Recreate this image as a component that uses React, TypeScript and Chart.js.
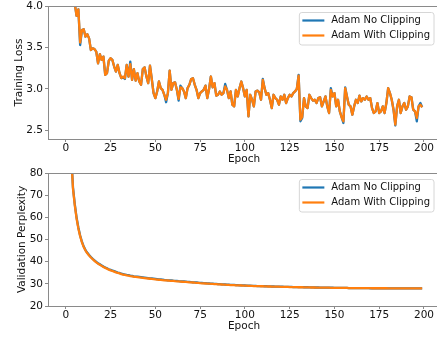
import React, { useEffect, useRef } from "react";
import { Chart, registerables } from "chart.js";

Chart.register(...registerables);

const FONT = '"DejaVu Sans", sans-serif';

const SERIES_NAMES = ["Adam No Clipping", "Adam With Clipping"];
const COLORS = ["#1f77b4", "#ff7f0e"];

const X_TICKS = [0, 25, 50, 75, 100, 125, 150, 175, 200];
const LOSS_TICKS = [2.5, 3.0, 3.5, 4.0];
const PPL_TICKS = [20, 30, 40, 50, 60, 70, 80];

// Training loss, epochs 0..199
const LOSS_WITH_CLIP = [
  6.2, 5.1, 4.6, 4.35, 4.15, 4.03, 3.88, 3.96, 3.56, 3.71,
  3.72, 3.63, 3.66, 3.61, 3.47, 3.49, 3.48, 3.45, 3.31, 3.42,
  3.35, 3.39, 3.17, 3.19, 3.34, 3.37, 3.35, 3.27, 3.21, 3.29,
  3.19, 3.13, 3.15, 3.13, 3.29, 3.15, 3.3, 3.11, 3.24, 3.1,
  3.19, 3.09, 3.05, 3.24, 3.26, 3.15, 3.07, 3.28, 3.12, 2.95,
  2.89, 2.97, 3.09, 3.01, 2.99, 2.93, 2.87, 2.95, 3.22, 2.99,
  3.07, 3.08, 2.99, 2.88, 3.02, 3.01, 2.97, 2.89, 3.01, 3.05,
  3.12, 3.13, 3.05, 2.99, 2.89, 2.95, 2.97, 2.99, 3.04, 2.89,
  3.0, 3.15, 3.02, 3.07, 2.92, 2.93, 2.97, 2.93, 2.95, 3.03,
  2.99, 2.89, 2.97, 2.81, 2.79, 2.99, 2.91, 3.01, 3.09, 3.01,
  2.91, 2.99, 2.67, 2.93, 2.87, 2.79, 2.97, 2.98, 2.96, 2.87,
  3.11, 3.01, 2.93, 2.95, 2.87, 2.77, 2.93, 2.89, 2.87, 2.81,
  2.91, 2.87, 2.93, 2.83, 2.89, 2.93, 2.91, 2.95, 2.97, 3.0,
  3.16, 2.63, 2.66, 2.89, 2.79, 2.77, 2.93, 2.89, 2.86, 2.87,
  2.83, 2.89, 2.9, 2.79, 2.85, 2.91, 2.79, 2.71, 2.99, 2.91,
  2.95, 2.79, 2.87, 2.73, 2.66, 2.61, 3.01, 2.91, 2.81, 2.79,
  2.69, 2.79, 2.87, 2.83, 2.92, 2.85, 2.89, 2.87, 2.91, 2.87,
  2.89, 2.77, 2.71, 2.73, 2.83, 2.71, 2.73, 2.79, 2.71, 2.83,
  3.01, 2.95, 2.87, 2.75, 2.57, 2.79, 2.87, 2.71, 2.79, 2.83,
  2.75, 2.79, 2.91, 2.9, 2.75, 2.73, 2.65, 2.79, 2.81, 2.78,
];

const LOSS_NO_CLIP = [
  6.2, 5.1, 4.6, 4.35, 4.15, 4.03, 3.88, 3.96, 3.53, 3.71,
  3.72, 3.63, 3.66, 3.61, 3.47, 3.49, 3.48, 3.45, 3.31, 3.42,
  3.35, 3.39, 3.17, 3.19, 3.34, 3.37, 3.35, 3.27, 3.21, 3.29,
  3.19, 3.13, 3.14, 3.12, 3.29, 3.15, 3.33, 3.11, 3.24, 3.1,
  3.19, 3.09, 3.05, 3.24, 3.26, 3.15, 3.07, 3.28, 3.12, 2.95,
  2.89, 2.97, 3.09, 3.01, 2.99, 2.93, 2.84, 2.95, 3.22, 2.99,
  3.07, 3.08, 2.99, 2.86, 3.04, 3.01, 2.97, 2.89, 3.01, 3.05,
  3.12, 3.13, 3.05, 2.99, 2.89, 2.95, 2.97, 2.99, 3.04, 2.89,
  3.0, 3.15, 3.02, 3.07, 2.92, 2.93, 2.97, 2.93, 2.95, 3.06,
  2.99, 2.89, 2.97, 2.81, 2.79, 2.99, 2.91, 3.01, 3.09, 3.01,
  2.91, 2.99, 2.67, 2.93, 2.87, 2.79, 2.97, 2.98, 2.96, 2.87,
  3.12, 3.01, 2.93, 2.95, 2.87, 2.77, 2.93, 2.89, 2.87, 2.81,
  2.91, 2.87, 2.93, 2.83, 2.89, 2.93, 2.91, 2.95, 2.97, 3.0,
  3.17, 2.61, 2.65, 2.89, 2.79, 2.77, 2.93, 2.89, 2.86, 2.87,
  2.83, 2.89, 2.9, 2.79, 2.85, 2.91, 2.79, 2.71, 3.01, 2.91,
  2.95, 2.79, 2.87, 2.73, 2.66, 2.59, 3.02, 2.91, 2.81, 2.79,
  2.69, 2.79, 2.87, 2.83, 2.92, 2.85, 2.89, 2.87, 2.91, 2.87,
  2.89, 2.77, 2.71, 2.73, 2.83, 2.71, 2.73, 2.79, 2.71, 2.83,
  3.01, 2.95, 2.87, 2.75, 2.56, 2.79, 2.87, 2.71, 2.79, 2.83,
  2.75, 2.79, 2.91, 2.9, 2.75, 2.73, 2.61, 2.79, 2.83, 2.78,
];

// Validation perplexity, epochs 0..199
const PPL_WITH_CLIP = [
  300, 170, 118, 88, 73, 65.5, 59.5, 55, 51.5, 48.7,
  46.6, 45.0, 43.8, 42.8, 41.9, 41.1, 40.4, 39.7, 39.1, 38.6,
  38.1, 37.6, 37.2, 36.8, 36.4, 36.1, 35.8, 35.5, 35.2, 34.9,
  34.7, 34.4, 34.2, 34.0, 33.8, 33.7, 33.5, 33.4, 33.2, 33.1,
  33.0, 32.9, 32.8, 32.7, 32.6, 32.5, 32.4, 32.3, 32.2, 32.1,
  32.0, 31.9, 31.85, 31.8, 31.7, 31.6, 31.55, 31.5, 31.4, 31.35,
  31.3, 31.2, 31.15, 31.1, 31.0, 30.95, 30.9, 30.85, 30.8, 30.7,
  30.65, 30.6, 30.5, 30.45, 30.4, 30.3, 30.25, 30.2, 30.15, 30.1,
  30.05, 30.0, 29.95, 29.9, 29.85, 29.8, 29.75, 29.7, 29.65, 29.6,
  29.55, 29.5, 29.45, 29.45, 29.4, 29.35, 29.3, 29.3, 29.25, 29.2,
  29.2, 29.15, 29.1, 29.1, 29.05, 29.0, 29.0, 28.95, 28.95, 28.9,
  28.9, 28.85, 28.85, 28.8, 28.8, 28.75, 28.75, 28.7, 28.7, 28.7,
  28.65, 28.65, 28.6, 28.6, 28.6, 28.55, 28.55, 28.5, 28.5, 28.5,
  28.45, 28.45, 28.45, 28.4, 28.4, 28.4, 28.4, 28.35, 28.35, 28.35,
  28.3, 28.3, 28.3, 28.3, 28.25, 28.25, 28.25, 28.25, 28.2, 28.2,
  28.2, 28.2, 28.2, 28.15, 28.15, 28.15, 28.15, 28.15, 28.1, 28.1,
  28.1, 28.1, 28.1, 28.1, 28.1, 28.05, 28.05, 28.05, 28.05, 28.05,
  28.05, 28.0, 28.0, 28.0, 28.0, 28.0, 28.0, 28.0, 28.0, 28.0,
  27.95, 27.95, 27.95, 27.95, 27.95, 27.95, 27.95, 27.95, 27.95, 27.95,
  27.95, 27.95, 27.95, 27.95, 27.95, 27.95, 27.95, 27.95, 27.95, 27.95,
];

const PPL_NO_CLIP = [
  300, 170, 118, 88.5, 73.5, 66, 60, 55.4, 51.8, 49,
  46.8, 45.2, 44.0, 43.0, 42.1, 41.3, 40.6, 39.9, 39.3, 38.8,
  38.3, 37.8, 37.4, 37.0, 36.6, 36.3, 36.0, 35.7, 35.4, 35.1,
  34.9, 34.6, 34.4, 34.2, 34.0, 33.9, 33.7, 33.6, 33.4, 33.3,
  33.2, 33.1, 33.0, 32.9, 32.8, 32.7, 32.6, 32.5, 32.4, 32.3,
  32.2, 32.1, 32.0, 31.95, 31.85, 31.75, 31.7, 31.6, 31.55, 31.5,
  31.4, 31.35, 31.3, 31.2, 31.15, 31.1, 31.05, 31.0, 30.9, 30.85,
  30.8, 30.7, 30.65, 30.6, 30.5, 30.45, 30.4, 30.35, 30.3, 30.2,
  30.15, 30.1, 30.05, 30.0, 29.95, 29.9, 29.85, 29.8, 29.75, 29.7,
  29.65, 29.6, 29.55, 29.5, 29.5, 29.45, 29.4, 29.35, 29.3, 29.3,
  29.25, 29.2, 29.2, 29.15, 29.1, 29.1, 29.05, 29.0, 29.0, 28.95,
  28.95, 28.9, 28.9, 28.85, 28.85, 28.8, 28.8, 28.75, 28.75, 28.7,
  28.7, 28.7, 28.65, 28.65, 28.6, 28.6, 28.6, 28.55, 28.55, 28.55,
  28.5, 28.5, 28.5, 28.45, 28.45, 28.45, 28.4, 28.4, 28.4, 28.35,
  28.35, 28.35, 28.3, 28.3, 28.3, 28.3, 28.25, 28.25, 28.25, 28.25,
  28.2, 28.2, 28.2, 28.2, 28.15, 28.15, 28.15, 28.15, 28.1, 28.1,
  28.1, 28.1, 28.1, 28.1, 28.05, 28.05, 28.05, 28.05, 28.05, 28.05,
  28.0, 28.0, 28.0, 28.0, 28.0, 28.0, 28.0, 28.0, 28.0, 27.95,
  27.95, 27.95, 27.95, 27.95, 27.95, 27.95, 27.95, 27.95, 27.95, 27.95,
  27.95, 27.95, 27.95, 27.95, 27.95, 27.95, 27.95, 27.95, 27.95, 27.95,
];

const CANVAS_W = 441;
const CANVAS_H = 168;
const SPINE = "#8a8a8a";
const TEXT = "#111111";

const framePlugin = {
  id: "mplFrame",
  afterDatasetsDraw(chart: any) {
    const { ctx, chartArea: a } = chart;
    ctx.save();
    ctx.strokeStyle = SPINE;
    ctx.lineWidth = 1;
    ctx.strokeRect(Math.round(a.left) + 0.5, Math.round(a.top) + 0.5, Math.round(a.right - a.left), Math.round(a.bottom - a.top));
    ctx.restore();
  },
};

const legendPlugin = {
  id: "mplLegend",
  afterDraw(chart: any) {
    const { ctx, chartArea: a } = chart;
    const fs = 10;
    ctx.save();
    ctx.font = `${fs}px ${FONT}`;
    const names = SERIES_NAMES;
    const textW = Math.max(...names.map((n) => ctx.measureText(n).width));
    const boxW = 3 + 22 + 7 + textW + 4;
    const boxH = 32.5;
    const right = a.right - 6.5;
    const left = right - boxW;
    const top = a.top + 6;
    ctx.beginPath();
    (ctx as any).roundRect(left + 0.5, top + 0.5, boxW, boxH, 2.5);
    ctx.fillStyle = "rgba(255,255,255,0.8)";
    ctx.fill();
    ctx.strokeStyle = "#d6d6d6";
    ctx.lineWidth = 1;
    ctx.stroke();
    names.forEach((n, i) => {
      const y = top + 8.5 + i * 15;
      ctx.beginPath();
      ctx.moveTo(left + 3.5, y);
      ctx.lineTo(left + 25.5, y);
      ctx.strokeStyle = COLORS[i];
      ctx.lineWidth = 2.2;
      ctx.stroke();
      ctx.fillStyle = TEXT;
      ctx.textBaseline = "middle";
      ctx.textAlign = "left";
      ctx.fillText(n, left + 32.5, y);
    });
    ctx.restore();
  },
};

type PanelProps = {
  top: number;
  series: number[][];
  yMin: number;
  yMax: number;
  yTicks: number[];
  yDecimals: number;
  yTitle: string;
  yTitlePad: number;
};

function Panel(p: PanelProps) {
  const ref = useRef<HTMLCanvasElement | null>(null);
  useEffect(() => {
    if (!ref.current) return;
    const datasets = p.series.map((vals, i) => ({
      label: SERIES_NAMES[i],
      data: vals.map((v, k) => ({ x: k, y: v })),
      borderColor: COLORS[i],
      backgroundColor: COLORS[i],
      borderWidth: 2.3,
      pointRadius: 0,
      tension: 0,
      borderJoinStyle: "round" as const,
      clip: 0,
      order: i === 1 ? 0 : 1,
    }));
    const tickFont = { family: FONT, size: 10.5 };
    const chart = new Chart(ref.current, {
      type: "line",
      data: { datasets },
      plugins: [framePlugin, legendPlugin],
      options: {
        responsive: false,
        animation: false,
        events: [],
        layout: { autoPadding: false, padding: { top: 6, right: 1, left: 0, bottom: 0 } } as any,
        plugins: { legend: { display: false }, tooltip: { enabled: false } },
        scales: {
          x: {
            type: "linear",
            min: -9.95,
            max: 208.95,
            afterBuildTicks: (s: any) => {
              s.ticks = X_TICKS.map((v) => ({ value: v }));
            },
            afterFit: (s: any) => {
              s.height = 29;
              s.paddingLeft = 0;
              s.paddingRight = 0;
            },
            grid: { display: true, drawOnChartArea: false, drawTicks: true, tickLength: 3, color: SPINE },
            border: { display: false },
            ticks: { font: tickFont, color: TEXT, padding: 0, maxRotation: 0, autoSkip: false, callback: (v: any) => String(v) },
            title: { display: true, text: "Epoch", font: { family: FONT, size: 10.5 }, color: TEXT, padding: { top: 0, bottom: 2.7 } },
          },
          y: {
            type: "linear",
            min: p.yMin,
            max: p.yMax,
            afterBuildTicks: (s: any) => {
              s.ticks = p.yTicks.map((v) => ({ value: v }));
            },
            afterFit: (s: any) => {
              s.width = 48;
              s.paddingTop = 0;
              s.paddingBottom = 0;
            },
            grid: { display: true, drawOnChartArea: false, drawTicks: true, tickLength: 3, color: SPINE },
            border: { display: false },
            ticks: { font: tickFont, color: TEXT, padding: 2, autoSkip: false, callback: (v: any) => Number(v).toFixed(p.yDecimals) },
            title: { display: true, text: p.yTitle, font: { family: FONT, size: 10.5 }, color: TEXT, padding: { top: p.yTitlePad, bottom: 0 } },
          },
        },
      },
    } as any);
    return () => chart.destroy();
  }, []);
  return (
    <canvas
      ref={ref}
      width={CANVAS_W}
      height={CANVAS_H}
      style={{ position: "absolute", left: 0, top: p.top, width: CANVAS_W, height: CANVAS_H, display: "block" }}
    />
  );
}

export default function App() {
  return (
    <div style={{ position: "fixed", left: 0, top: 0, width: 437, height: 337, overflow: "hidden", background: "#fff" }}>
      <Panel top={0} series={[LOSS_NO_CLIP, LOSS_WITH_CLIP]} yMin={2.397} yMax={4.0} yTicks={LOSS_TICKS} yDecimals={1} yTitle="Training Loss" yTitlePad={13.4} />
      <Panel top={167} series={[PPL_NO_CLIP, PPL_WITH_CLIP]} yMin={20} yMax={80} yTicks={PPL_TICKS} yDecimals={0} yTitle="Validation Perplexity" yTitlePad={16.1} />
    </div>
  );
}
